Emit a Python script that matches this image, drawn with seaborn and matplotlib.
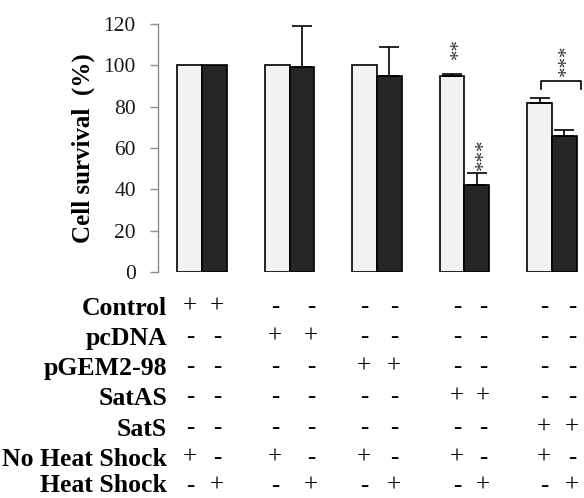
import matplotlib
matplotlib.use("Agg")
import matplotlib.pyplot as plt
from matplotlib.container import BarContainer
import seaborn as sns
import pandas as pd
import numpy as np

# ---- data ----
groups = ["Control", "pcDNA", "pGEM2-98", "SatAS", "SatS"]
conditions = ["No Heat Shock", "Heat Shock"]
survival_no_shock = [100, 100, 100, 95, 82]
survival_shock = [100, 99, 95, 42, 66]
err_no_shock = [0, 0, 0, 1, 2]
err_shock = [0, 20, 14, 6, 2.5]

# treatment table under the bars (one column per bar)
row_labels = ["Control", "pcDNA", "pGEM2-98", "SatAS", "SatS",
              "No Heat Shock", "Heat Shock"]
row_marks = [
    ["+", "+", "-", "-", "-", "-", "-", "-", "-", "-"],
    ["-", "-", "+", "+", "-", "-", "-", "-", "-", "-"],
    ["-", "-", "-", "-", "+", "+", "-", "-", "-", "-"],
    ["-", "-", "-", "-", "-", "-", "+", "+", "-", "-"],
    ["-", "-", "-", "-", "-", "-", "-", "-", "+", "+"],
    ["+", "-", "+", "-", "+", "-", "+", "-", "+", "-"],
    ["-", "+", "-", "+", "-", "+", "-", "+", "-", "+"],
]

df = pd.DataFrame({
    "group": groups * 2,
    "condition": [conditions[0]] * len(groups) + [conditions[1]] * len(groups),
    "survival": survival_no_shock + survival_shock,
})

W, H = 584, 498
fig = plt.figure(figsize=(W / 100, H / 100), dpi=100)
ax = fig.add_axes([158 / W, 226 / H, 426 / W, 248 / H])

serif = ["Liberation Serif", "DejaVu Serif"]

sns.barplot(data=df, x="group", y="survival", hue="condition",
            order=groups, hue_order=conditions,
            palette={"No Heat Shock": "#f2f2f2", "Heat Shock": "#262626"},
            edgecolor="black", linewidth=1.2, width=0.57,
            errorbar=None, legend=False, ax=ax)

# upper-only error bars placed on the drawn bars
errs = [err_no_shock, err_shock]
bar_containers = [c for c in ax.containers if isinstance(c, BarContainer)]
centers = []
for ci, cont in enumerate(bar_containers):
    xs = np.array([p.get_x() + p.get_width() / 2 for p in cont.patches])
    hs = np.array([p.get_height() for p in cont.patches])
    centers.append(xs)
    e = np.array(errs[ci], dtype=float)
    m = e > 0
    ax.errorbar(xs[m], hs[m], yerr=[np.zeros(m.sum()), e[m]], fmt="none",
                ecolor="black", elinewidth=1.2, capsize=7, capthick=1.2,
                zorder=3)

ax.set_ylim(0, 120)
ax.set_xlim(-0.503, 4.366)
ax.set_yticks(range(0, 121, 20))
ax.set_xticks([])
ax.set_xlabel("")
ax.set_ylabel("")
for s in ["top", "right", "bottom"]:
    ax.spines[s].set_visible(False)
ax.spines["left"].set_color("#8c8c8c")
ax.spines["left"].set_linewidth(1.0)
ax.tick_params(axis="y", length=6, width=1.0, color="#8c8c8c",
               labelsize=15.5, labelcolor="#1a1a1a", pad=10)
for t in ax.get_yticklabels():
    t.set_fontfamily(serif)

fig.text(83 / W, 1 - 148 / H, "Cell survival  (%)", rotation=90,
         ha="center", va="center", fontsize=18, fontweight="bold",
         family=serif)

# significance marks
star_kw = dict(rotation=90, ha="center", va="center", fontsize=15,
               color="#333333", family=serif)
ax.text(centers[0][3] + 0.09, 108, "**", **star_kw)
ax.text(centers[1][3] + 0.09, 57, "***", **star_kw)
bx0 = centers[0][4] + 0.02
bx1 = centers[1][4] + 0.19
ax.plot([bx0, bx0, bx1, bx1], [88.5, 92.4, 92.4, 88.5], color="black",
        lw=1.2, clip_on=False)
ax.text((bx0 + bx1) / 2 + 0.07, 102.6, "***", **star_kw)

# treatment table
label_right = 167
row_y = [307, 337, 367, 397, 428, 457.5, 486]
col_x = [190, 217, 275, 311, 364, 394, 457, 483, 544, 572]
for i, (lab, y, marks) in enumerate(zip(row_labels, row_y, row_marks)):
    base = y + 8 if i < len(row_labels) - 1 else y + 6
    fig.text(label_right / W, 1 - base / H, lab, ha="right",
             va="baseline", fontsize=18.5, fontweight="bold", family=serif)
    for x, mk in zip(col_x, marks):
        fig.text(x / W, 1 - y / H, mk, ha="center", va="center",
                 fontsize=18, family=serif)

fig.savefig("out.png", dpi=100)
